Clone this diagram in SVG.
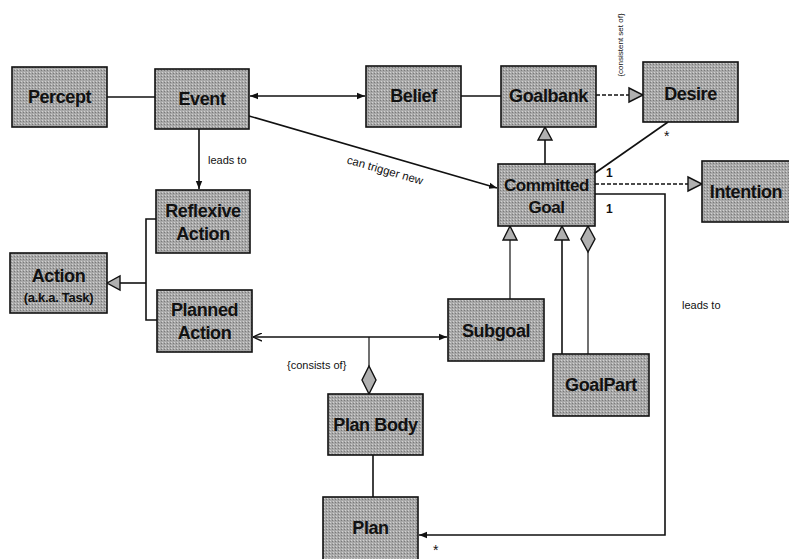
<svg xmlns="http://www.w3.org/2000/svg" width="789" height="559" viewBox="0 0 789 559">
<style>
.box{fill:#a6a6a6;stroke:#111;stroke-width:1.6}
.t{font-family:"Liberation Sans",Arial,sans-serif;font-weight:bold;font-size:18px;letter-spacing:-0.4px;fill:#111;text-anchor:middle}
.s{font-family:"Liberation Sans",Arial,sans-serif;font-weight:bold;font-size:13px;letter-spacing:-0.3px;fill:#111;text-anchor:middle}
.l{font-family:"Liberation Sans",Arial,sans-serif;font-size:11px;fill:#111}
.c{fill:none;stroke:#111;stroke-width:1.6}
.d{fill:none;stroke:#111;stroke-width:1.6;stroke-dasharray:4 2}
.tri{fill:#b0b0b0;stroke:#111;stroke-width:1.4}
</style>
<defs>
<pattern id="dots" width="3" height="3" patternUnits="userSpaceOnUse">
<rect width="3" height="3" fill="#a8a8a8"/>
<rect x="0" y="0" width="1" height="1" fill="#d2d2d2"/>
<rect x="2" y="1" width="1" height="1" fill="#7a7a7a"/>
</pattern>
<marker id="fa" viewBox="0 0 10 10" refX="10" refY="5" markerWidth="8" markerHeight="8" orient="auto-start-reverse" markerUnits="userSpaceOnUse">
<path d="M0,1 L10,5 L0,9 Z" fill="#111"/>
</marker>
<marker id="oa" viewBox="0 0 10 10" refX="10" refY="5" markerWidth="9" markerHeight="9" orient="auto-start-reverse" markerUnits="userSpaceOnUse">
<path d="M0,0.5 L10,5 L0,9.5" fill="none" stroke="#111" stroke-width="1.5"/>
</marker>
</defs>
<rect width="789" height="559" fill="#fff"/>

<g id="connectors">
<line class="c" x1="107" y1="97" x2="155" y2="97"/>
<line class="c" x1="250" y1="96" x2="365" y2="96" marker-start="url(#fa)" marker-end="url(#fa)"/>
<line class="c" x1="461" y1="96" x2="501" y2="96"/>
<line class="d" x1="596" y1="95" x2="629" y2="95"/>
<path class="tri" d="M629,88 L643,95 L629,102 Z"/>
<text class="l" transform="translate(623,45) rotate(-90)" style="text-anchor:middle;font-size:8px">{consistent set of}</text>
<line class="c" x1="545" y1="140" x2="545" y2="164"/>
<path class="tri" d="M545,127 L552,140 L538,140 Z"/>
<line class="c" x1="668" y1="122" x2="595" y2="173"/>
<text class="l" x="664" y="141" style="font-size:14px">*</text>
<text class="l" x="606" y="177" style="font-size:12px;font-weight:bold">1</text>
<line class="d" x1="595" y1="184" x2="688" y2="184"/>
<path class="tri" d="M688,177 L702,184 L688,191 Z"/>
<polyline class="c" points="595,194 665,194 665,535 419,535" marker-end="url(#fa)"/>
<text class="l" x="606" y="213" style="font-size:12px;font-weight:bold">1</text>
<text class="l" x="682" y="309">leads to</text>
<text class="l" x="433" y="555" style="font-size:14px">*</text>
<line class="c" x1="249" y1="116" x2="497" y2="188" marker-end="url(#fa)"/>
<text class="l" transform="translate(384,174) rotate(16)" style="text-anchor:middle;font-size:11.5px">can trigger new</text>
<line class="c" x1="199" y1="129" x2="199" y2="189" marker-end="url(#fa)"/>
<text class="l" x="208" y="164">leads to</text>
<polyline class="c" points="156,219 146,219 146,320 157,320"/>
<line class="c" x1="146" y1="283" x2="120" y2="283"/>
<path class="tri" d="M107,283 L120,276 L120,290 Z"/>
<line class="c" x1="253" y1="337" x2="447" y2="337" marker-start="url(#oa)" marker-end="url(#fa)"/>
<line class="c" x1="369" y1="337" x2="369" y2="366" style="stroke-width:1.2"/>
<path class="tri" d="M369,366 L376,380 L369,394 L362,380 Z"/>
<text class="l" x="287" y="369">{consists of}</text>
<line class="c" x1="373" y1="455" x2="373" y2="497"/>
<line class="c" x1="510" y1="299" x2="510" y2="240" style="stroke-width:1.2"/>
<path class="tri" d="M510,226 L517,240 L503,240 Z"/>
<line class="c" x1="562" y1="354" x2="562" y2="240"/>
<path class="tri" d="M562,226 L569,240 L555,240 Z"/>
<line class="c" x1="588" y1="354" x2="588" y2="252" style="stroke-width:1.2"/>
<path class="tri" d="M588,226 L595,239 L588,252 L581,239 Z"/>
</g>

<g id="percept"><rect class="box" x="12" y="67" width="95" height="60" style="fill:url(#dots)"/><text class="t" x="59.5" y="103">Percept</text></g>
<g id="event"><rect class="box" x="155" y="69" width="94" height="60" style="fill:url(#dots)"/><text class="t" x="202" y="105">Event</text></g>
<g id="belief"><rect class="box" x="366" y="66" width="95" height="61" style="fill:url(#dots)"/><text class="t" x="413.5" y="102">Belief</text></g>
<g id="goalbank"><rect class="box" x="501" y="66" width="95" height="61" style="fill:url(#dots)"/><text class="t" x="548.5" y="102">Goalbank</text></g>
<g id="desire"><rect class="box" x="643" y="62" width="95" height="60" style="fill:url(#dots)"/><text class="t" x="690.5" y="100">Desire</text></g>
<g id="committed-goal"><rect class="box" x="498" y="164" width="97" height="62" style="fill:url(#dots)"/><text class="t" x="546.5" y="191" style="font-size:17px">Committed</text><text class="t" x="546.5" y="213" style="font-size:17px">Goal</text></g>
<g id="intention"><rect class="box" x="702" y="161" width="88" height="61" style="fill:url(#dots)"/><text class="t" x="746" y="198">Intention</text></g>
<g id="reflexive-action"><rect class="box" x="156" y="190" width="94" height="63" style="fill:url(#dots)"/><text class="t" x="203" y="217">Reflexive</text><text class="t" x="203" y="240">Action</text></g>
<g id="action"><rect class="box" x="10" y="253" width="97" height="60" style="fill:url(#dots)"/><text class="t" x="58.5" y="282">Action</text><text class="s" x="58.5" y="302">(a.k.a. Task)</text></g>
<g id="planned-action"><rect class="box" x="157" y="290" width="95" height="62" style="fill:url(#dots)"/><text class="t" x="204.5" y="316">Planned</text><text class="t" x="204.5" y="339">Action</text></g>
<g id="subgoal"><rect class="box" x="448" y="299" width="96" height="62" style="fill:url(#dots)"/><text class="t" x="496" y="337">Subgoal</text></g>
<g id="goalpart"><rect class="box" x="553" y="354" width="96" height="62" style="fill:url(#dots)"/><text class="t" x="601" y="391">GoalPart</text></g>
<g id="plan-body"><rect class="box" x="328" y="394" width="95" height="61" style="fill:url(#dots)"/><text class="t" x="375.5" y="431">Plan Body</text></g>
<g id="plan"><rect class="box" x="323" y="497" width="95" height="66" style="fill:url(#dots)"/><text class="t" x="370.5" y="534">Plan</text></g>
</svg>
